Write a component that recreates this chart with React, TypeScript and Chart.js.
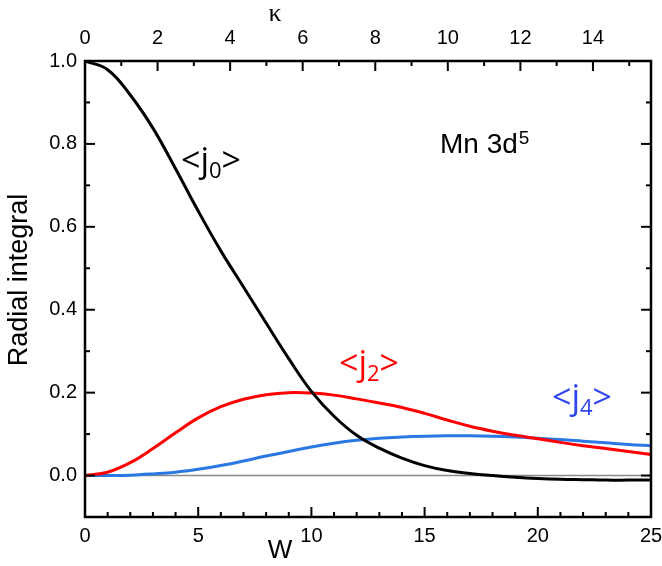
import React, { useEffect, useRef } from "react";
import { Chart, registerables } from "chart.js";

Chart.register(...registerables);

// ---- data ----
const W_VALUES = [0, 1, 2, 3, 4, 5, 6, 7, 8, 9, 10, 11, 12, 13, 14, 15, 16, 17, 18, 19, 20, 21, 22, 23, 24, 25];
const J0 = [1.0, 0.979, 0.918, 0.838, 0.74, 0.638, 0.542, 0.455, 0.368, 0.282, 0.203, 0.143, 0.097, 0.066, 0.042, 0.024, 0.012, 0.005, 0.0, -0.004, -0.007, -0.009, -0.01, -0.011, -0.011, -0.011];
const J2 = [0, 0.008, 0.031, 0.065, 0.103, 0.139, 0.166, 0.184, 0.195, 0.2, 0.199, 0.194, 0.185, 0.175, 0.164, 0.15, 0.134, 0.119, 0.107, 0.097, 0.089, 0.08, 0.072, 0.065, 0.058, 0.051];
const J4 = [0, 0, 0.001, 0.004, 0.008, 0.015, 0.024, 0.035, 0.047, 0.058, 0.069, 0.078, 0.085, 0.09, 0.093, 0.095, 0.096, 0.096, 0.095, 0.093, 0.09, 0.087, 0.083, 0.079, 0.075, 0.072];

const X_TICKS = [0, 5, 10, 15, 20, 25];
const X_MINOR = [1, 2, 3, 4, 6, 7, 8, 9, 11, 12, 13, 14, 16, 17, 18, 19, 21, 22, 23, 24];
const KAPPA_TICKS = [0, 2, 4, 6, 8, 10, 12, 14];
const KAPPA_MINOR = [1, 3, 5, 7, 9, 11, 13, 15];
const Y_TICKS = [0, 0.2, 0.4, 0.6, 0.8, 1.0];
const Y_MINOR = [-0.1, 0.1, 0.3, 0.5, 0.7, 0.9];

const X_MIN = 0, X_MAX = 25;
const KAPPA_MAX = 15.6;
const Y_MIN = -0.1, Y_MAX = 1.0;

const TICK_FONT = { family: "'Liberation Sans', Arial, sans-serif", size: 20 };

const toPts = (ys: number[]) => W_VALUES.map((x, i) => ({ x, y: ys[i] }));

const decorPlugin = {
  id: "decor",
  beforeDatasetsDraw(chart: any) {
    const { ctx, chartArea: a, scales } = chart;
    const y0 = scales.y.getPixelForValue(0);
    ctx.save();
    ctx.strokeStyle = "#8a8a8a";
    ctx.lineWidth = 1.5;
    ctx.beginPath();
    ctx.moveTo(a.left, y0);
    ctx.lineTo(a.right, y0);
    ctx.stroke();
    ctx.restore();
  },
  afterDraw(chart: any) {
    const { ctx, chartArea: a, scales } = chart;
    ctx.save();
    ctx.strokeStyle = "#000";
    ctx.lineWidth = 2;
    const line = (x1: number, y1: number, x2: number, y2: number) => {
      ctx.beginPath();
      ctx.moveTo(x1, y1);
      ctx.lineTo(x2, y2);
      ctx.stroke();
    };
    const MAJ = 10, MIN = 5;
    X_TICKS.forEach((v) => { const p = scales.x.getPixelForValue(v); line(p, a.bottom, p, a.bottom - MAJ); });
    X_MINOR.forEach((v) => { const p = scales.x.getPixelForValue(v); line(p, a.bottom, p, a.bottom - MIN); });
    KAPPA_TICKS.forEach((v) => { const p = scales.xTop.getPixelForValue(v); line(p, a.top, p, a.top + MAJ); });
    KAPPA_MINOR.forEach((v) => { const p = scales.xTop.getPixelForValue(v); line(p, a.top, p, a.top + MIN); });
    Y_TICKS.forEach((v) => {
      const p = scales.y.getPixelForValue(v);
      line(a.left, p, a.left + MAJ, p);
      line(a.right, p, a.right - MAJ, p);
    });
    Y_MINOR.forEach((v) => {
      const p = scales.y.getPixelForValue(v);
      line(a.left, p, a.left + MIN, p);
      line(a.right, p, a.right - MIN, p);
    });
    ctx.lineWidth = 2.5;
    ctx.strokeRect(a.left, a.top, a.right - a.left, a.bottom - a.top);

    // axis titles
    ctx.fillStyle = "#000";
    ctx.textAlign = "center";
    ctx.textBaseline = "middle";
    ctx.font = "26px 'Liberation Sans', Arial, sans-serif";
    ctx.fillText("W", a.left + 195, 551);
    ctx.font = "26px 'Liberation Serif', 'DejaVu Serif', serif";
    ctx.fillText("κ", a.left + 190, 14);
    ctx.save();
    ctx.translate(20, 280);
    ctx.rotate(-Math.PI / 2);
    ctx.font = "27px 'Liberation Sans', Arial, sans-serif";
    ctx.fillText("Radial integral", 0, 0);
    ctx.restore();

    // curve labels
    ctx.textAlign = "left";
    ctx.textBaseline = "alphabetic";
    const label = (x: number, y: number, sub: string, color: string) => {
      ctx.fillStyle = color;
      ctx.font = "34px 'Open Sans', 'Noto Sans', sans-serif";
      ctx.fillText("<j", x, y);
      let cx = x + ctx.measureText("<j").width;
      ctx.font = "22px 'Open Sans', 'Noto Sans', sans-serif";
      ctx.fillText(sub, cx, y + 6);
      cx += ctx.measureText(sub).width;
      ctx.font = "34px 'Open Sans', 'Noto Sans', sans-serif";
      ctx.fillText(">", cx, y);
    };
    label(181, 172, "0", "#000000");
    label(339, 375, "2", "#ff0000");
    label(552, 409, "4", "#2f45ee");

    ctx.fillStyle = "#000";
    ctx.font = "28px 'Liberation Sans', Arial, sans-serif";
    ctx.fillText("Mn 3d", 440, 153);
    const mw = ctx.measureText("Mn 3d").width;
    ctx.font = "19px 'Liberation Sans', Arial, sans-serif";
    ctx.fillText("5", 440 + mw + 1, 144);
    ctx.restore();
  },
};

export default function App() {
  const ref = useRef<HTMLCanvasElement | null>(null);
  useEffect(() => {
    if (!ref.current) return;
    const chart = new Chart(ref.current, {
      type: "line",
      data: {
        datasets: [
          { data: toPts(J0), borderColor: "#000000", borderWidth: 3, pointRadius: 0, tension: 0.4, xAxisID: "x", yAxisID: "y" },
          { data: toPts(J2), borderColor: "#ff0000", borderWidth: 3, pointRadius: 0, tension: 0.4, xAxisID: "x", yAxisID: "y" },
          { data: toPts(J4), borderColor: "#2a78e4", borderWidth: 3, pointRadius: 0, tension: 0.4, xAxisID: "x", yAxisID: "y" },
        ],
      },
      options: {
        animation: false,
        responsive: false,
        devicePixelRatio: 1,
        layout: { padding: 0 },
        plugins: { legend: { display: false }, tooltip: { enabled: false } },
        scales: {
          x: {
            type: "linear", position: "bottom", min: X_MIN, max: X_MAX,
            grid: { display: false, drawTicks: false }, border: { display: false },
            ticks: { font: TICK_FONT, color: "#000", padding: 7, maxRotation: 0, callback: (v: any) => String(v) },
            afterBuildTicks: (s: any) => { s.ticks = X_TICKS.map((value) => ({ value })); },
            afterFit: (s: any) => { s.height = 49; s.paddingLeft = 0; s.paddingRight = 0; },
          },
          xTop: {
            type: "linear", position: "top", min: 0, max: KAPPA_MAX,
            grid: { display: false, drawTicks: false }, border: { display: false },
            ticks: { font: TICK_FONT, color: "#000", padding: 11, maxRotation: 0, callback: (v: any) => String(v) },
            afterBuildTicks: (s: any) => { s.ticks = KAPPA_TICKS.map((value) => ({ value })); },
            afterFit: (s: any) => { s.height = 61; s.paddingLeft = 0; s.paddingRight = 0; },
          },
          y: {
            type: "linear", position: "left", min: Y_MIN, max: Y_MAX,
            grid: { display: false, drawTicks: false }, border: { display: false },
            ticks: { font: TICK_FONT, color: "#000", padding: 8, callback: (v: any) => Number(v).toFixed(1) },
            afterBuildTicks: (s: any) => { s.ticks = Y_TICKS.map((value) => ({ value })); },
            afterFit: (s: any) => { s.width = 85; s.paddingTop = 0; s.paddingBottom = 0; },
          },
          yRight: {
            type: "linear", position: "right", min: Y_MIN, max: Y_MAX,
            grid: { display: false, drawTicks: false }, border: { display: false },
            ticks: { display: false },
            afterFit: (s: any) => { s.width = 11; s.paddingTop = 0; s.paddingBottom = 0; },
          },
        },
      },
      plugins: [decorPlugin],
    } as any);
    return () => chart.destroy();
  }, []);
  return (
    <div style={{ position: "fixed", left: 0, top: 0, width: 662, height: 566, background: "#fff" }}>
      <canvas ref={ref} width={662} height={566} style={{ display: "block" }} />
    </div>
  );
}
